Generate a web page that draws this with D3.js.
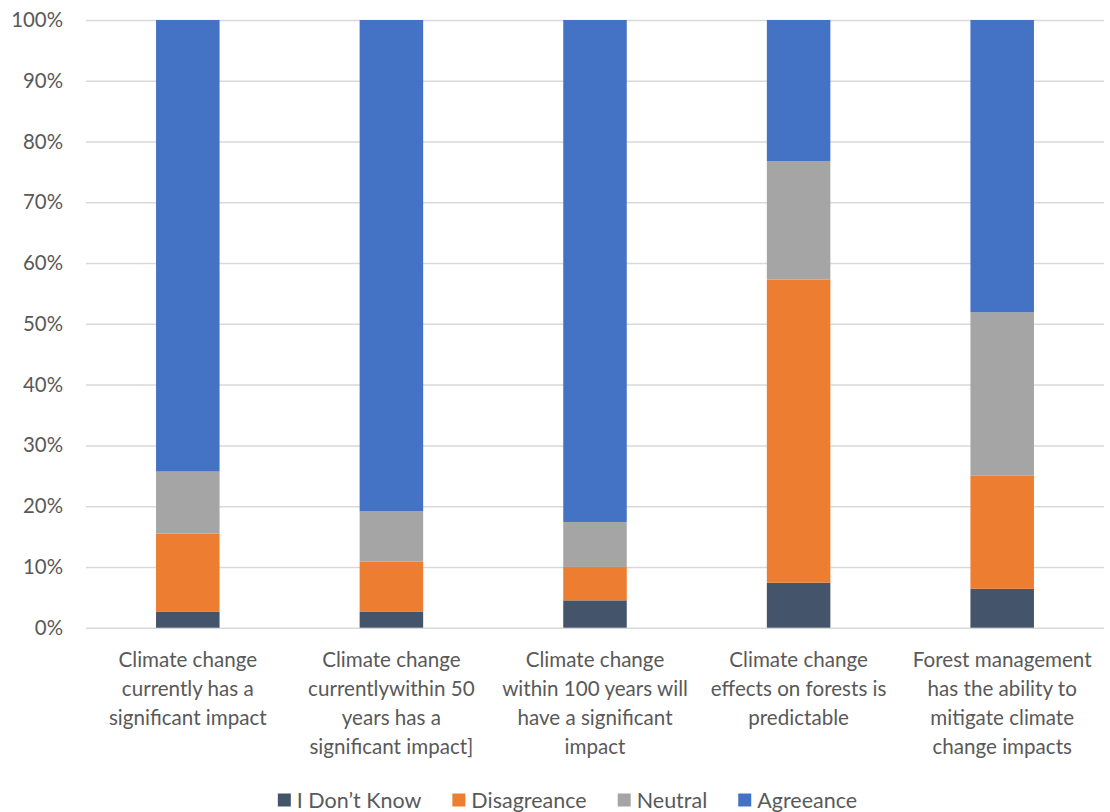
<!DOCTYPE html>
<html>
<head>
<meta charset="utf-8">
<script src="https://cdn.jsdelivr.net/npm/d3@7"></script>
<style>
  html, body { margin: 0; padding: 0; background: #ffffff; }
  svg { display: block; font-family: Lato, "Open Sans", sans-serif; }
</style>
</head>
<body>
<svg id="chart" width="1110" height="812"></svg>
<script>
// Survey statements (x-axis categories), each split over lines as displayed
const categories = [
  ["Climate change", "currently has a", "significant impact"],
  ["Climate change", "currentlywithin 50", "years has a", "significant impact]"],
  ["Climate change", "within 100 years will", "have a significant", "impact"],
  ["Climate change", "effects on forests is", "predictable"],
  ["Forest management", "has the ability to", "mitigate climate", "change impacts"]
];

// Response shares (%) per statement
const idk         = [2.6, 2.6, 4.5, 7.4, 6.4];
const disagreance = [12.9, 8.3, 5.5, 49.9, 18.6];
const neutral     = [10.2, 8.3, 7.4, 19.5, 26.9];
const agreeance   = [74.3, 80.8, 82.6, 23.2, 48.1];

const seriesNames  = ["I Don\u2019t Know", "Disagreance", "Neutral", "Agreeance"];
const seriesColors = ["#44546A", "#ED7D31", "#A5A5A5", "#4472C4"];
const yTicks = [0, 0.1, 0.2, 0.3, 0.4, 0.5, 0.6, 0.7, 0.8, 0.9, 1.0];

const svg = d3.select("#chart");
const plot = { left: 86, right: 1104, top: 20, bottom: 627.7 };

const rows = categories.map((c, i) => ({
  key: i,
  [seriesNames[0]]: idk[i],
  [seriesNames[1]]: disagreance[i],
  [seriesNames[2]]: neutral[i],
  [seriesNames[3]]: agreeance[i]
}));

const stacked = d3.stack()
  .keys(seriesNames)
  .offset(d3.stackOffsetExpand)(rows);

const x = d3.scaleBand()
  .domain(d3.range(categories.length))
  .range([plot.left, plot.right])
  .paddingInner(0.688)
  .paddingOuter(0.344);

const y = d3.scaleLinear().domain([0, 1]).range([plot.bottom, plot.top]);
const color = d3.scaleOrdinal().domain(seriesNames).range(seriesColors);

// Horizontal gridlines and percentage labels
const yAxis = d3.axisLeft(y)
  .tickValues(yTicks)
  .tickFormat(d3.format(".0%"))
  .tickSize(-(plot.right - plot.left))
  .tickPadding(23);

const gy = svg.append("g")
  .attr("transform", `translate(${plot.left},0)`)
  .call(yAxis);
gy.select(".domain").remove();
gy.selectAll(".tick line").attr("stroke", "#d9d9d9").attr("stroke-width", 1.5);
gy.selectAll(".tick text")
  .attr("fill", "#595959")
  .attr("font-size", 20.4)
  .attr("font-family", "Lato, 'Open Sans', sans-serif");

// Stacked bars
svg.append("g")
  .selectAll("g")
  .data(stacked)
  .join("g")
  .attr("fill", d => color(d.key))
  .selectAll("rect")
  .data(d => d)
  .join("rect")
  .attr("x", d => x(d.data.key))
  .attr("width", x.bandwidth())
  .attr("y", d => y(d[1]))
  .attr("height", d => y(d[0]) - y(d[1]));

// Category labels
const labels = svg.append("g")
  .selectAll("text")
  .data(categories)
  .join("text")
  .attr("text-anchor", "middle")
  .attr("fill", "#595959")
  .attr("font-size", 20.6)
  .attr("transform", (d, i) => `translate(${x(i) + x.bandwidth() / 2},667)`);
labels.selectAll("tspan")
  .data(d => d)
  .join("tspan")
  .attr("x", 0)
  .attr("y", (d, j) => j * 29)
  .text(d => d);

// Legend
const legend = svg.append("g").attr("transform", "translate(0,800)");
const items = legend.selectAll("g")
  .data(seriesNames)
  .join("g");
items.append("rect")
  .attr("width", 13).attr("height", 13)
  .attr("y", -6.5)
  .attr("fill", d => color(d));
items.append("text")
  .attr("x", 19)
  .attr("dy", "0.35em")
  .attr("fill", "#595959")
  .attr("font-size", 21.5)
  .text(d => d);

let widths = [];
items.each(function () {
  widths.push(19 + this.querySelector("text").getComputedTextLength());
});
const gap = 31;
const total = d3.sum(widths) + gap * (widths.length - 1);
let cx = 567.5 - total / 2;
items.attr("transform", (d, i) => {
  const t = `translate(${cx},0)`;
  cx += widths[i] + gap;
  return t;
});
</script>
</body>
</html>
